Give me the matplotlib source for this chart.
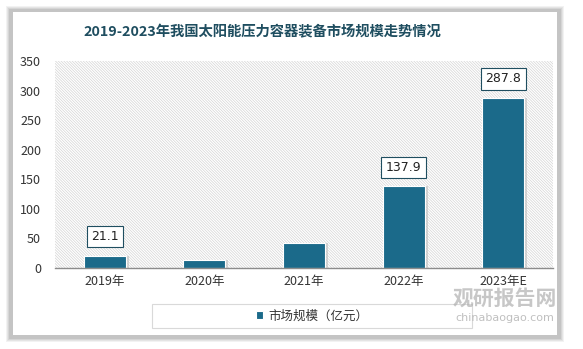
import matplotlib.pyplot as plt
import matplotlib.patches as mpatches
import numpy as np

plt.rcParams["font.family"] = ["Noto Sans CJK SC", "DejaVu Sans"]
plt.rcParams["hatch.color"] = "#d4d4d4"
plt.rcParams["hatch.linewidth"] = 0.5

# 数据
years = ["2019年", "2020年", "2021年", "2022年", "2023年E"]
values = [21.1, 13.0, 42.0, 137.9, 287.8]
shown_labels = [True, False, False, True, True]

BAR_COLOR = "#1b6a8a"
TITLE_COLOR = "#1f4e60"

fig = plt.figure(figsize=(5.83, 3.49), dpi=100)
fig.patch.set_facecolor("white")

# 卡片阴影 + 白色卡片
W, H = 583, 349
for i, a in enumerate([0.10, 0.12, 0.15, 0.20]):
    off = 4 - i
    fig.patches.append(mpatches.Rectangle(
        ((10 - off) / W, (H - 338 - off) / H), (550 + 2 * off) / W, (328 + 2 * off) / H,
        transform=fig.transFigure, facecolor="#808080", alpha=a,
        edgecolor="none", zorder=0))
fig.patches.append(mpatches.Rectangle(
    (13 / W, (H - 335) / H), 544 / W, 323 / H, transform=fig.transFigure,
    facecolor="white", edgecolor="none", zorder=1))

ax = fig.add_axes([55 / W, (H - 268) / H, 498 / W, 207 / H])
ax.set_zorder(3)
ax.set_facecolor("none")
ax.add_patch(mpatches.Rectangle((0, 0), 1, 1, transform=ax.transAxes,
                                facecolor="white", hatch="\\" * 12,
                                edgecolor="#d4d4d4", linewidth=0, zorder=0))

x = np.arange(len(years))
# 柱子阴影
ax.bar(x + 0.03, values, width=0.42, color="#bdbdbd", alpha=0.6, zorder=2)
bars = ax.bar(x, values, width=0.42, color=BAR_COLOR, edgecolor="white",
              linewidth=0.8, zorder=3, label="市场规模（亿元）")

for bar, val, show in zip(bars, values, shown_labels):
    if not show:
        continue
    ax.annotate(f"{val}", xy=(bar.get_x() + bar.get_width() / 2, val),
                xytext=(0, 9), textcoords="offset points",
                ha="center", va="bottom", fontsize=9, color="#222222",
                family="DejaVu Sans",
                bbox=dict(boxstyle="square,pad=0.35", facecolor="white",
                          edgecolor=TITLE_COLOR, linewidth=0.8), zorder=5)

ax.set_xlim(-0.5, len(years) - 0.5)
ax.set_ylim(0, 350)
ax.set_yticks(np.arange(0, 351, 50))
ax.set_xticks(x)
ax.set_xticklabels(years)
ax.tick_params(axis="both", length=0, labelsize=9, colors="#333333")
ax.tick_params(axis="y", pad=10)
ax.tick_params(axis="x", pad=5)
for s in ["top", "right", "left"]:
    ax.spines[s].set_visible(False)
ax.spines["bottom"].set_color("#8c8c8c")
ax.spines["bottom"].set_linewidth(1.0)
ax.spines["bottom"].set_zorder(4)

fig.text(262 / W, (H - 32) / H, "2019-2023年我国太阳能压力容器装备市场规模走势情况",
         ha="center", va="center", fontsize=10.3, fontweight="bold",
         color=TITLE_COLOR, zorder=4)

# 图例框
fig.patches.append(mpatches.Rectangle(
    (152 / W, (H - 328) / H), 320 / W, 24 / H, transform=fig.transFigure,
    facecolor="white", edgecolor="#d9d9d9", linewidth=0.8, zorder=2))
leg = fig.legend(handles=[bars], labels=["市场规模（亿元）"], loc="center",
                 bbox_to_anchor=(312 / W, (H - 316) / H), frameon=False,
                 fontsize=9, handlelength=0.6, handleheight=0.6,
                 handletextpad=0.4, labelcolor="#333333")
leg.set_zorder(5)

# 水印
fig.text(505 / W, (H - 298) / H, "观研报告网", ha="center", va="center",
         fontsize=15, fontweight="bold", color="#b0b0b0", alpha=0.7, zorder=6)
fig.text(505 / W, (H - 318) / H, "chinabaogao.com", ha="center", va="center",
         fontsize=8, color="#b0b0b0", alpha=0.8, family="DejaVu Sans", zorder=6)

fig.savefig("out.png", dpi=100)
